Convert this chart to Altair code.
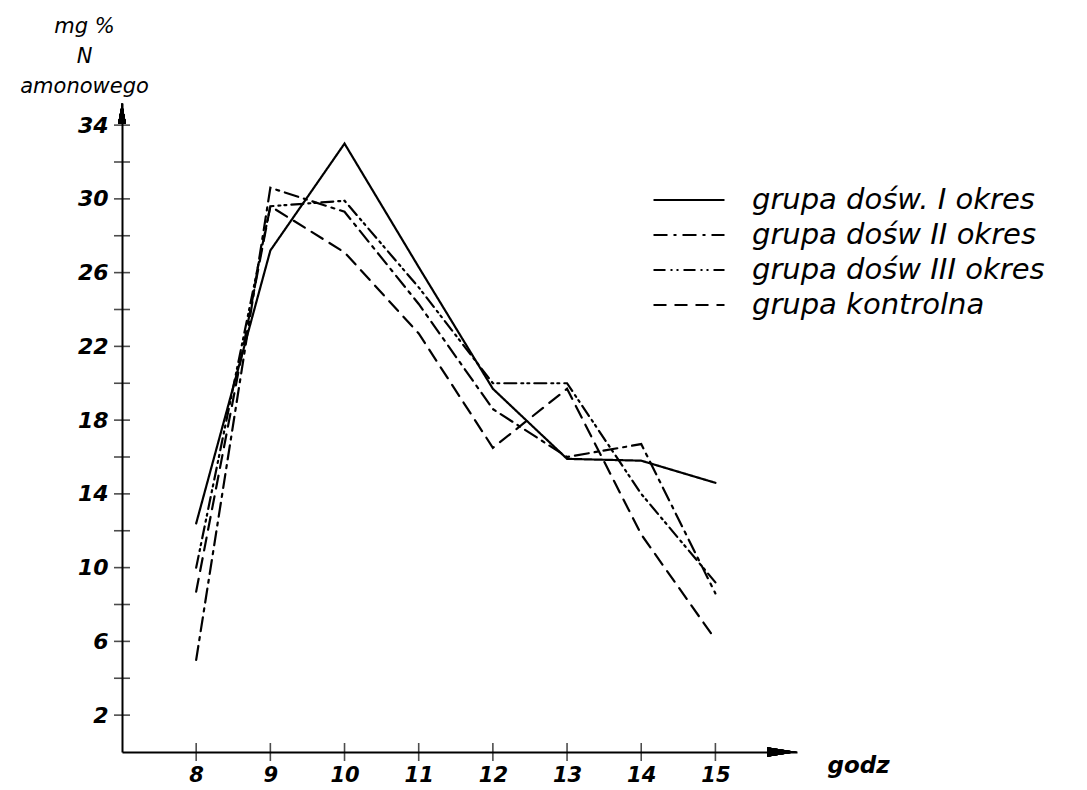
import altair as alt
import pandas as pd

# ---- data ----
hours = [8, 9, 10, 11, 12, 13, 14, 15]
grupa_I = [12.4, 27.2, 33.0, 26.3, 19.7, 15.9, 15.8, 14.6]
grupa_II = [5.0, 30.6, 29.3, 24.3, 18.6, 16.0, 16.7, 8.6]
grupa_III = [10.0, 29.6, 29.9, 25.2, 20.0, 20.0, 14.0, 9.2]
kontrolna = [8.7, 29.6, 27.1, 22.7, 16.5, 19.7, 11.8, 6.1]
series_names = ["grupa dośw. I okres", "grupa dośw II okres",
                "grupa dośw III okres", "grupa kontrolna"]
y_tick_values = list(range(2, 35, 2))
y_label_values = [2, 6, 10, 14, 18, 22, 26, 30, 34]
y_title = ["mg %", "N", "amonowego"]
x_title = "godz"

rows = []
for name, vals in zip(series_names, [grupa_I, grupa_II, grupa_III, kontrolna]):
    for h, v in zip(hours, vals):
        rows.append({"godz": h, "wartosc": v, "grupa": name})
df = pd.DataFrame(rows)
df_yticks = pd.DataFrame({"v": y_tick_values})
df_xticks = pd.DataFrame({"h": hours})

FONT = "DejaVu Sans"
dashes = [[1, 0], [14, 6, 3, 6], [12, 5, 2, 4, 2, 5], [13, 8]]
X_MIN, X_MAX = 7, 16.1
Y_MIN, Y_MAX = 0, 35.2

x_scale = alt.Scale(domain=[X_MIN, X_MAX], nice=False, zero=False)
y_scale = alt.Scale(domain=[Y_MIN, Y_MAX], nice=False, zero=False)

label_expr = "indexof([" + ",".join(str(v) for v in y_label_values) + "], datum.value) >= 0 ? datum.label : ''"

base = alt.Chart(df)

lines = base.mark_line(color="black", strokeWidth=2.2, strokeCap="round").encode(
    x=alt.X("godz:Q", scale=x_scale,
            axis=alt.Axis(values=hours, format="d", ticks=False, labelPadding=12,
                          labelFont=FONT, labelFontSize=21, labelFontStyle="italic",
                          labelFontWeight="bold", labelColor="black",
                          domainColor="black", domainWidth=2, grid=False,
                          title=x_title, titleFont=FONT, titleFontSize=23,
                          titleFontStyle="italic", titleFontWeight="bold",
                          titleColor="black",
                          titleX=736, titleY=13, titleAlign="center",
                          titleBaseline="middle")),
    y=alt.Y("wartosc:Q", scale=y_scale,
            axis=alt.Axis(values=y_tick_values, labelExpr=label_expr, ticks=False,
                          labelPadding=14,
                          labelFont=FONT, labelFontSize=22, labelFontStyle="italic",
                          labelFontWeight="bold", labelColor="black",
                          domainColor="black", domainWidth=2, grid=False,
                          title=y_title, titleFont=FONT, titleFontSize=21,
                          titleFontStyle="italic", titleFontWeight="normal",
                          titleColor="black", titleAngle=0,
                          titleX=-38, titleY=-88, titleAlign="center",
                          titleBaseline="top", titleLineHeight=30)),
    strokeDash=alt.StrokeDash(
        "grupa:N", sort=series_names,
        scale=alt.Scale(domain=series_names, range=dashes),
        legend=alt.Legend(orient="none", legendX=548, legendY=78, title=None,
                          symbolType="M-2,0L2,0", symbolSize=1260,
                          symbolStrokeWidth=2.2, symbolStrokeColor="black",
                          symbolFillColor="transparent",
                          labelFont=FONT, labelFontSize=29, labelFontStyle="italic",
                          labelColor="black", labelOffset=44, rowPadding=1,
                          labelLimit=0)),
)

yticks = alt.Chart(df_yticks).mark_tick(orient="horizontal", size=16, thickness=1.6,
                                        color="black").encode(
    x=alt.datum(X_MIN), y=alt.Y("v:Q", scale=y_scale))

xticks = alt.Chart(df_xticks).mark_tick(orient="vertical", size=18, thickness=1.6,
                                        color="black").encode(
    x=alt.X("h:Q", scale=x_scale), y=alt.datum(Y_MIN))

y_arrow = alt.Chart(df_yticks).mark_point(
    shape="M0,-1 L0.38,1 L-0.38,1 Z", size=441, filled=True, color="black",
    opacity=1).encode(x=alt.datum(X_MIN), y=alt.datum(Y_MAX - 0.57))

x_arrow = alt.Chart(df_xticks).mark_point(
    shape="M1,0 L-1,-0.32 L-1,0.32 Z", size=900, filled=True, color="black",
    opacity=1).encode(x=alt.datum(X_MAX - 0.2), y=alt.datum(Y_MIN))

chart = alt.layer(lines, yticks, xticks, y_arrow, x_arrow).properties(
    width=675, height=649,
    autosize=alt.AutoSizeParams(type="none"),
    padding={"left": 114, "top": 95, "right": 280, "bottom": 38},
    background="white",
).configure_view(stroke=None)

chart.save("out.html", embed_options={"renderer": "svg", "actions": False})
